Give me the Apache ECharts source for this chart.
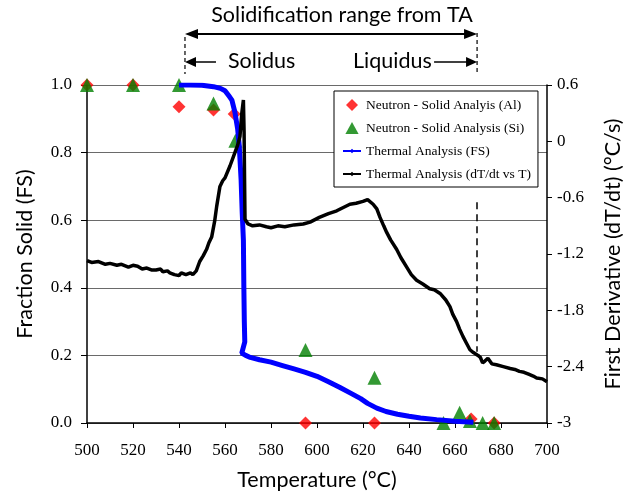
<!DOCTYPE html>
<html>
<head>
<meta charset="UTF-8">
<title>Fraction solid vs temperature</title>
<script type="text/javascript" src="https://cdn.jsdelivr.net/npm/echarts@6/dist/echarts.min.js"></script>
<style>
html,body{margin:0;padding:0;background:#fff;}
</style>
</head>
<body>

<div id="box" style="width:633px;height:496px;"></div>

<script type="text/javascript">

// neutron diffraction points, Al peaks [T, FS]
var neutronAl = [[500,1.0],[520,1.0],[540,0.936],[555,0.926],[564,0.914],[595,0.0],[625,0.0],[667,0.012],[677,0.0]];
// neutron diffraction points, Si peaks [T, FS]
var neutronSi = [[500,1.0],[520,1.0],[540,1.0],[555,0.945],[564.5,0.835],[595,0.216],[625,0.134],[655,0.0],[662,0.03],[666.5,0.006],[672,0.0],[677,0.0]];
// thermal analysis fraction solid curve [T, FS]
var thermalFS = [[540,1.0],[545,1.0],[550,0.999],[555,0.995],[558,0.99],[560,0.983],[562,0.965],[563,0.955],[564.3,0.92],
  [565.5,0.87],[566.2,0.82],[567,0.72],[567.5,0.62],[568,0.54],[568.2,0.4],[568.4,0.3],[568.6,0.24],[567.3,0.207],
  [569,0.2],[571,0.194],[575,0.187],[580,0.18],[585,0.17],[590,0.16],[595,0.15],[600,0.138],[605,0.122],[610,0.105],
  [615,0.087],[619,0.072],[622,0.058],[626,0.044],[630,0.034],[635,0.026],[640,0.02],[645,0.015],[652,0.01],[660,0.005],[668,0.002]];
// first derivative curve [T, dT/dt]
var derivative = [[500,-1.27],[502,-1.29],[505,-1.28],[508,-1.31],[510,-1.30],[513,-1.32],[515,-1.31],[518,-1.34],[520,-1.32],
  [522,-1.33],[524,-1.36],[526,-1.35],[528,-1.37],[530,-1.37],[532,-1.36],[533,-1.39],[535,-1.38],[536,-1.40],[538,-1.42],
  [540,-1.43],[541,-1.40],[543,-1.42],[545,-1.40],[546,-1.42],[547.5,-1.38],[549,-1.28],[550.5,-1.22],[552,-1.15],[553,-1.08],
  [554.2,-1.02],[555.5,-0.85],[556.4,-0.69],[557.8,-0.48],[559,-0.42],[560,-0.39],[562.2,-0.26],[564.3,-0.12],[565.5,-0.04],
  [566.5,0.05],[567.3,0.3],[568,0.44],[568.3,0.1],[568.5,-0.4],[568.7,-0.83],[570,-0.88],[572,-0.90],[575,-0.89],[578,-0.91],
  [580,-0.92],[583,-0.90],[586,-0.91],[590,-0.89],[594,-0.88],[597,-0.86],[601,-0.81],[605,-0.77],[608.6,-0.74],[611,-0.71],
  [614.3,-0.67],[617,-0.66],[620,-0.64],[622,-0.62],[624.4,-0.67],[626,-0.72],[627.4,-0.81],[629,-0.90],[630.3,-0.97],
  [632,-1.05],[634.6,-1.15],[636.5,-1.24],[639,-1.34],[641,-1.42],[643.3,-1.48],[646,-1.52],[649,-1.57],[651,-1.58],
  [653.5,-1.62],[656,-1.69],[657.8,-1.76],[659,-1.84],[660.7,-1.92],[662,-2.00],[663.5,-2.08],[665,-2.15],[666.5,-2.22],
  [668,-2.25],[670,-2.28],[671,-2.30],[672,-2.36],[673,-2.34],[674.3,-2.31],[676,-2.37],[678,-2.38],[681,-2.40],
  [684,-2.42],[686,-2.43],[688,-2.45],[690,-2.46],[692,-2.48],[694,-2.50],[695.5,-2.52],[698,-2.53],[700,-2.56]];

// solidification range read from thermal analysis (°C)
var solidusT = 542.6;
var liquidusT = 669.6;
var liquidusLine = [-0.65, -2.24];

var serif = 'Liberation Serif';
var sans = 'Lato';

// legend icons: small marker shapes, thin line with dot
var iconDiamond = 'path://M0,-5L5,0L0,5L-5,0Z';
var iconTriangle = 'path://M0,-5L5.5,5L-5.5,5Z';
var iconLine = 'path://M0,5H18V7H0Z M9,3.8L11.2,6L9,8.2L6.8,6Z';

var mychart = echarts.init(document.getElementById('box'));

var option = {
  animation: false,
  backgroundColor: '#fff',
  grid: { left: 87, right: 86, top: 85, bottom: 71 },
  legend: {
    orient: 'vertical',
    left: 334,
    top: 91,
    padding: [7, 7, 6, 9],
    itemGap: 9,
    itemWidth: 18,
    itemHeight: 12,
    backgroundColor: '#fff',
    borderColor: '#000',
    borderWidth: 1,
    textStyle: { fontFamily: serif, fontSize: 13.5, color: '#000' },
    data: [
      { name: 'Neutron - Solid Analyis (Al)', icon: iconDiamond },
      { name: 'Neutron - Solid Analysis (Si)', icon: iconTriangle },
      { name: 'Thermal Analysis (FS)', icon: iconLine },
      { name: 'Thermal Analysis (dT/dt vs T)', icon: iconLine }
    ]
  },
  xAxis: {
    type: 'value',
    min: 500, max: 700, interval: 20,
    name: 'Temperature (°C)',
    nameLocation: 'middle',
    nameGap: 46,
    nameTextStyle: { fontFamily: sans, fontSize: 21.5, color: '#000' },
    axisLine: { lineStyle: { color: '#000', width: 1.5 } },
    axisTick: { length: 5, lineStyle: { color: '#000' } },
    axisLabel: { fontFamily: serif, fontSize: 17, color: '#000', margin: 19 },
    splitLine: { show: false }
  },
  yAxis: [{
    type: 'value',
    min: 0, max: 1, interval: 0.2,
    name: 'Fraction Solid (FS)',
    nameLocation: 'middle',
    nameRotate: 90,
    nameGap: 51,
    nameTextStyle: { fontFamily: sans, fontSize: 21.5, color: '#000' },
    axisLine: { show: true, lineStyle: { color: '#000', width: 1.5 } },
    axisTick: { show: true, length: 6, lineStyle: { color: '#000' } },
    axisLabel: { fontFamily: serif, fontSize: 17, color: '#000', margin: 15,
      formatter: function (v) { return v.toFixed(1); } },
    splitLine: { show: true, lineStyle: { color: '#6a6a6a', width: 1 } }
  }, {
    type: 'value',
    min: -3, max: 0.6, interval: 0.6,
    name: 'First Derivative (dT/dt) (°C/s)',
    nameLocation: 'middle',
    nameRotate: 90,
    nameGap: 55,
    nameTextStyle: { fontFamily: sans, fontSize: 21.5, color: '#000' },
    axisLine: { show: true, lineStyle: { color: '#000', width: 1.5 } },
    axisTick: { show: true, length: 5, lineStyle: { color: '#000' } },
    axisLabel: { fontFamily: serif, fontSize: 17, color: '#000', margin: 10,
      formatter: function (v) { return String(Number(v.toFixed(1))); } },
    splitLine: { show: false }
  }],
  series: [{
    name: 'Neutron - Solid Analyis (Al)',
    type: 'scatter',
    symbol: 'diamond',
    symbolSize: 13,
    clip: false,
    itemStyle: { color: '#ff0000' },
    data: neutronAl,
    z: 2
  }, {
    name: 'Neutron - Solid Analysis (Si)',
    type: 'scatter',
    symbol: 'triangle',
    symbolSize: 14,
    clip: false,
    itemStyle: { color: '#008000' },
    data: neutronSi,
    z: 3
  }, {
    name: 'Thermal Analysis (FS)',
    type: 'line',
    showSymbol: false,
    lineStyle: { color: '#0000ff', width: 5 },
    itemStyle: { color: '#0000ff' },
    data: thermalFS,
    z: 4
  }, {
    name: 'Thermal Analysis (dT/dt vs T)',
    type: 'line',
    yAxisIndex: 1,
    showSymbol: false,
    lineStyle: { color: '#000', width: 3.5 },
    itemStyle: { color: '#000' },
    data: derivative,
    z: 5,
    markLine: {
      silent: true,
      symbol: 'none',
      label: { show: false },
      lineStyle: { color: '#000', type: [7, 5], width: 1.5 },
      data: [[{ coord: [liquidusT, liquidusLine[0]] }, { coord: [liquidusT, liquidusLine[1]] }]]
    }
  }]
};

mychart.setOption(option);

// annotation above the plot, anchored to the solidus / liquidus temperatures
var xs = mychart.convertToPixel({ xAxisIndex: 0 }, solidusT);
var xl = mychart.convertToPixel({ xAxisIndex: 0 }, liquidusT);
var black = { fill: '#000' };
var dash = { stroke: '#000', lineWidth: 1.2, lineDash: [4, 3] };
var font = '21.5px ' + sans;

mychart.setOption({
  graphic: [
    { type: 'text', style: { x: (xs + xl) / 2 + 11, y: 4, text: 'Solidification range from TA', font: font, fill: '#000', textAlign: 'center' } },
    { type: 'line', shape: { x1: xs, y1: 37, x2: xs, y2: 74 }, style: dash },
    { type: 'line', shape: { x1: xl, y1: 33, x2: xl, y2: 74 }, style: dash },
    { type: 'line', shape: { x1: xs + 10, y1: 34, x2: xl - 10, y2: 34 }, style: { stroke: '#000', lineWidth: 2 } },
    { type: 'polygon', shape: { points: [[xs, 34], [xs + 13, 29], [xs + 13, 39]] }, style: black },
    { type: 'polygon', shape: { points: [[xl, 34], [xl - 13, 29], [xl - 13, 39]] }, style: black },
    { type: 'line', shape: { x1: xs + 8, y1: 62, x2: xs + 31, y2: 62 }, style: { stroke: '#000', lineWidth: 1.5 } },
    { type: 'polygon', shape: { points: [[xs, 62], [xs + 11, 57], [xs + 11, 67]] }, style: black },
    { type: 'text', style: { x: xs + 43, y: 50, text: 'Solidus', font: font, fill: '#000' } },
    { type: 'text', style: { x: xl - 124, y: 50, text: 'Liquidus', font: font, fill: '#000' } },
    { type: 'line', shape: { x1: xl - 43, y1: 62, x2: xl - 8, y2: 62 }, style: { stroke: '#000', lineWidth: 1.5 } },
    { type: 'polygon', shape: { points: [[xl, 62], [xl - 11, 57], [xl - 11, 67]] }, style: black }
  ]
});
</script>
</body>
</html>
